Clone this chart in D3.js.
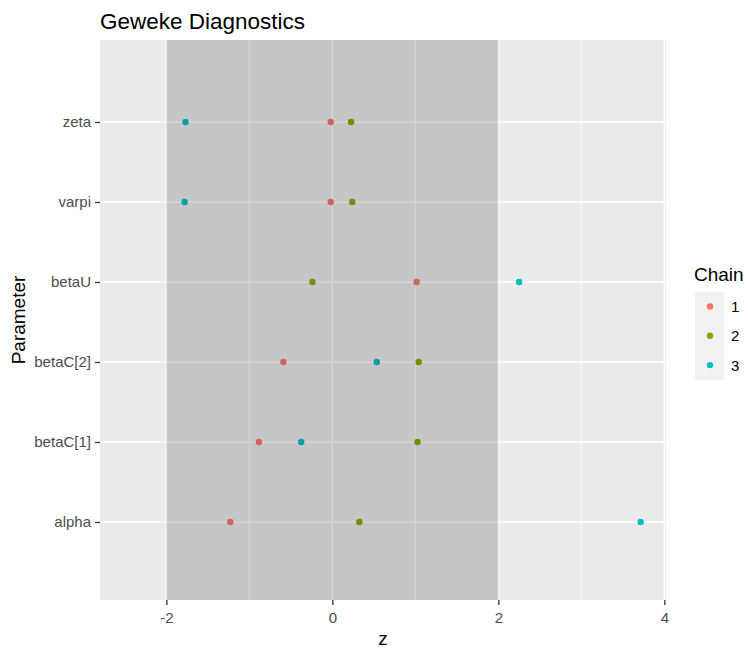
<!DOCTYPE html>
<html>
<head>
<meta charset="utf-8">
<script src="https://cdn.jsdelivr.net/npm/d3@7"></script>
<style>
  body { margin: 0; background: #fff; }
  text { font-family: "Liberation Sans", Arial, sans-serif; }
</style>
</head>
<body>
<div id="chart"></div>
<script>
// values
let params = ["alpha", "betaC[1]", "betaC[2]", "betaU", "varpi", "zeta"];
let chains = ["1", "2", "3"];
let chain1 = [-1.23, -0.885, -0.59, 1.015, -0.02, -0.02];
let chain2 = [0.325, 1.025, 1.04, -0.24, 0.24, 0.225];
let chain3 = [3.715, -0.375, 0.535, 2.25, -1.78, -1.77];
let xTicks = [-2, 0, 2, 4];
let xMinor = [-1, 1, 3];
let band = [-2, 2];

let width = 748, height = 649;
let margin = {left: 100, right: 82, top: 40, bottom: 49};

let rows = [];
[chain1, chain2, chain3].forEach((vals, i) => {
    vals.forEach((v, j) => rows.push({param: params[j], chain: chains[i], z: v}));
});

let svg = d3.select("#chart").append("svg")
    .attr("width", width)
    .attr("height", height);

let xScale = d3.scaleLinear()
    .domain([-2.8, 4.02])
    .range([margin.left, width - margin.right]);

// rows sit ~2px below the symmetric position in the reference
let yScale = d3.scalePoint()
    .domain(params)
    .range([height - margin.bottom + 2, margin.top + 2])
    .padding(1);

let color = d3.scaleOrdinal()
    .domain(chains)
    .range(["#F8766D", "#7CAE00", "#00BFC4"]);

let x0 = margin.left, x1 = width - margin.right;
let y0 = margin.top, y1 = height - margin.bottom;

// panel
svg.append("rect")
    .attr("x", x0).attr("y", y0)
    .attr("width", x1 - x0).attr("height", y1 - y0)
    .attr("fill", "#EBEBEB");

svg.append("g").selectAll("line")
    .data(xMinor)
    .join("line")
    .attr("x1", d => xScale(d)).attr("x2", d => xScale(d))
    .attr("y1", y0).attr("y2", y1)
    .attr("stroke", "#fff").attr("stroke-width", 0.8);

svg.append("g").selectAll("line")
    .data(xTicks)
    .join("line")
    .attr("x1", d => xScale(d)).attr("x2", d => xScale(d))
    .attr("y1", y0).attr("y2", y1)
    .attr("stroke", "#fff").attr("stroke-width", 1.5);

svg.append("g").selectAll("line")
    .data(params)
    .join("line")
    .attr("x1", x0).attr("x2", x1)
    .attr("y1", d => yScale(d)).attr("y2", d => yScale(d))
    .attr("stroke", "#fff").attr("stroke-width", 1.5);

// points
svg.append("g").selectAll("circle")
    .data(rows)
    .join("circle")
    .attr("cx", d => xScale(d.z))
    .attr("cy", d => yScale(d.param))
    .attr("r", 3.2)
    .attr("fill", d => color(d.chain));

// shaded band drawn on top
svg.append("rect")
    .attr("x", xScale(band[0])).attr("y", y0)
    .attr("width", xScale(band[1]) - xScale(band[0]))
    .attr("height", y1 - y0)
    .attr("fill", "#000").attr("fill-opacity", 0.157);

// axes
let x_axis = d3.axisBottom(xScale).tickValues(xTicks).tickFormat(d => String(d))
    .tickSize(5).tickPadding(7);
let y_axis = d3.axisLeft(yScale).tickSize(5).tickPadding(4);

let gx = svg.append("g")
    .attr("transform", `translate(0, ${y1})`)
    .call(x_axis);
gx.select(".domain").remove();

let gy = svg.append("g")
    .attr("transform", `translate(${x0}, 0)`)
    .call(y_axis);
gy.select(".domain").remove();

[gx, gy].forEach(g => {
    g.selectAll(".tick line").attr("stroke", "#333333").attr("stroke-width", 1.3);
    g.selectAll(".tick text")
        .attr("fill", "#4D4D4D")
        .style("font-size", "15px")
        .style("font-family", "'Liberation Sans', Arial, sans-serif");
});

// titles
svg.append("text")
    .attr("x", x0).attr("y", 28.5)
    .style("font-size", "22.5px")
    .attr("fill", "#000")
    .text("Geweke Diagnostics");

svg.append("text")
    .attr("x", (x0 + x1) / 2).attr("y", 645)
    .attr("text-anchor", "middle")
    .style("font-size", "19px")
    .text("z");

svg.append("text")
    .attr("transform", `translate(25, ${(y0 + y1) / 2}) rotate(-90)`)
    .attr("text-anchor", "middle")
    .style("font-size", "19px")
    .text("Parameter");

// legend
let legend = svg.append("g").attr("transform", "translate(695, 0)");
legend.append("text")
    .attr("x", -1).attr("y", 281)
    .style("font-size", "19px")
    .text("Chain");

legend.append("rect")
    .attr("x", 0).attr("y", 292)
    .attr("width", 29).attr("height", 88)
    .attr("fill", "#F2F2F2");

let keys = legend.selectAll("g.key")
    .data(chains)
    .join("g")
    .attr("class", "key")
    .attr("transform", (d, i) => `translate(0, ${292 + i * 29.3})`);

keys.append("circle")
    .attr("cx", 15).attr("cy", 14.5)
    .attr("r", 3.2)
    .attr("fill", d => color(d));

keys.append("text")
    .attr("x", 36).attr("y", 20)
    .style("font-size", "15px")
    .text(d => d);
</script>
</body>
</html>
